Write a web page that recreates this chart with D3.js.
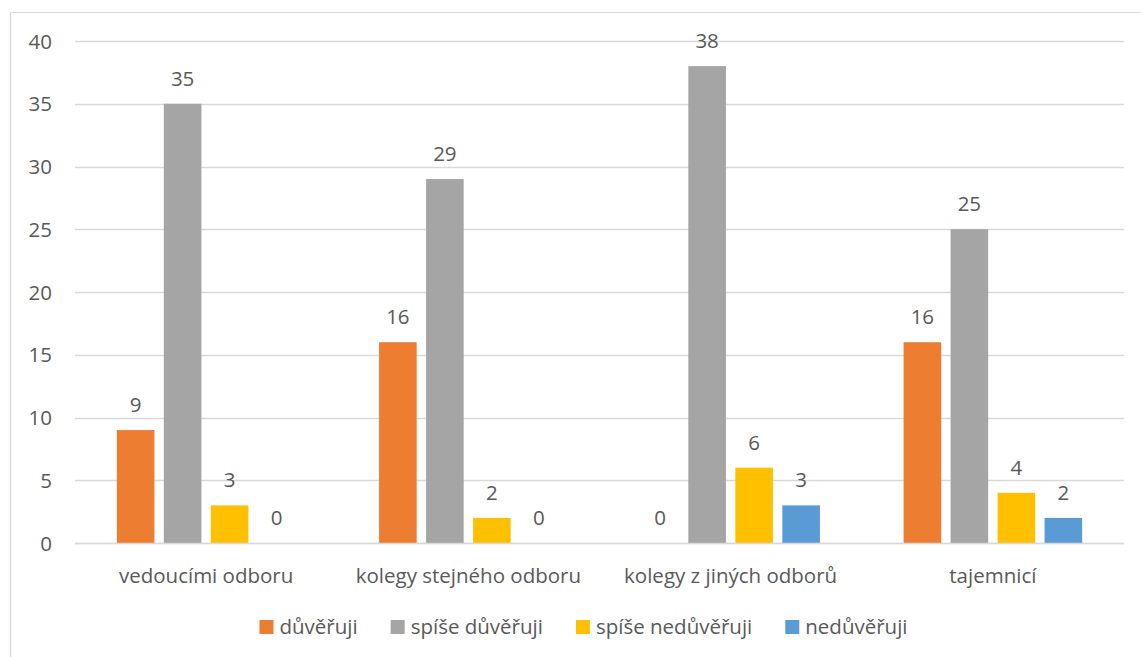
<!DOCTYPE html>
<html>
<head>
<meta charset="utf-8">
<script src="https://cdn.jsdelivr.net/npm/d3@7"></script>
<style>
  html, body { margin: 0; padding: 0; background: #fff; }
  svg text { font-family: "Open Sans", sans-serif; fill: #595959; }
</style>
</head>
<body>
<svg id="chart" width="1141" height="657"></svg>
<script>
const categories = ["vedoucími odboru", "kolegy stejného odboru", "kolegy z jiných odborů", "tajemnicí"];
const seriesNames = ["důvěřuji", "spíše důvěřuji", "spíše nedůvěřuji", "nedůvěřuji"];
const duveruji = [9, 16, 0, 16];
const spiseDuveruji = [35, 29, 38, 25];
const spiseNeduveruji = [3, 2, 6, 4];
const neduveruji = [0, 0, 3, 2];
const yTicks = [0, 5, 10, 15, 20, 25, 30, 35, 40];
const colors = ["#ED7D31", "#A5A5A5", "#FFC000", "#5B9BD5"];

const seriesValues = [duveruji, spiseDuveruji, spiseNeduveruji, neduveruji];

const svg = d3.select("#chart");
const fontSize = 20.5;

// chart border (top and left visible)
svg.append("line").attr("x1", 10.5).attr("x2", 1141).attr("y1", 12.5).attr("y2", 12.5)
  .attr("stroke", "#D9D9D9").attr("stroke-width", 1);
svg.append("line").attr("x1", 10.5).attr("x2", 10.5).attr("y1", 12.5).attr("y2", 657)
  .attr("stroke", "#D9D9D9").attr("stroke-width", 1.5);

const x0 = d3.scaleBand().domain(categories).range([75, 1124]).padding(0);
const x1 = d3.scaleBand().domain(seriesNames).range([0, x0.bandwidth()])
  .paddingInner(0.2).paddingOuter(0.89);
const y = d3.scaleLinear().domain([0, 40]).range([543, 41]);

// gridlines
svg.append("g").selectAll("line").data(yTicks).join("line")
  .attr("x1", 75).attr("x2", 1124)
  .attr("y1", d => Math.round(y(d)) + 0.5).attr("y2", d => Math.round(y(d)) + 0.5)
  .attr("stroke", "#D9D9D9").attr("stroke-width", 1.5);

// y axis labels
const yAxis = d3.axisLeft(y).tickValues(yTicks).tickSize(0).tickPadding(0);
const yg = svg.append("g").attr("transform", "translate(52,0)").call(yAxis);
yg.select(".domain").remove();
yg.selectAll("text").style("font-size", fontSize + "px").attr("fill", "#595959")
  .style("font-family", "'Open Sans', sans-serif").attr("dy", "0.35em");

// bars
const data = [];
categories.forEach((c, i) => {
  seriesNames.forEach((s, j) => {
    data.push({cat: c, ser: s, val: seriesValues[j][i], color: colors[j]});
  });
});

const g = svg.append("g");
g.selectAll("rect").data(data).join("rect")
  .attr("x", d => x0(d.cat) + x1(d.ser))
  .attr("width", x1.bandwidth())
  .attr("y", d => y(d.val))
  .attr("height", d => y(0) - y(d.val))
  .attr("fill", d => d.color);

g.selectAll("text.lbl").data(data).join("text").attr("class", "lbl")
  .attr("x", d => x0(d.cat) + x1(d.ser) + x1.bandwidth() / 2)
  .attr("y", d => y(d.val) - 18)
  .attr("text-anchor", "middle")
  .style("font-size", fontSize + "px")
  .text(d => d.val);

// x axis line
svg.append("line").attr("x1", 75).attr("x2", 1124).attr("y1", 543.5).attr("y2", 543.5)
  .attr("stroke", "#D9D9D9").attr("stroke-width", 1.5);

// category labels
svg.append("g").selectAll("text").data(categories).join("text")
  .attr("x", d => x0(d) + x0.bandwidth() / 2)
  .attr("y", 583)
  .attr("text-anchor", "middle")
  .style("font-size", fontSize + "px")
  .text(d => d);

// legend
const leg = svg.append("g");
const items = leg.selectAll("g").data(seriesNames).join("g");
items.append("rect").attr("width", 14).attr("height", 14).attr("y", 620)
  .attr("fill", (d, i) => colors[i]);
items.append("text").attr("x", 20).attr("y", 634)
  .style("font-size", fontSize + "px").text(d => d);
let xpos = 0;
const widths = [];
items.each(function() {
  const w = d3.select(this).select("text").node().getComputedTextLength();
  widths.push(20 + w);
});
const gap = 33;
const total = d3.sum(widths) + gap * (widths.length - 1);
xpos = 583.5 - total / 2;
items.attr("transform", (d, i) => {
  const t = `translate(${xpos},0)`;
  xpos += widths[i] + gap;
  return t;
});
</script>
</body>
</html>
